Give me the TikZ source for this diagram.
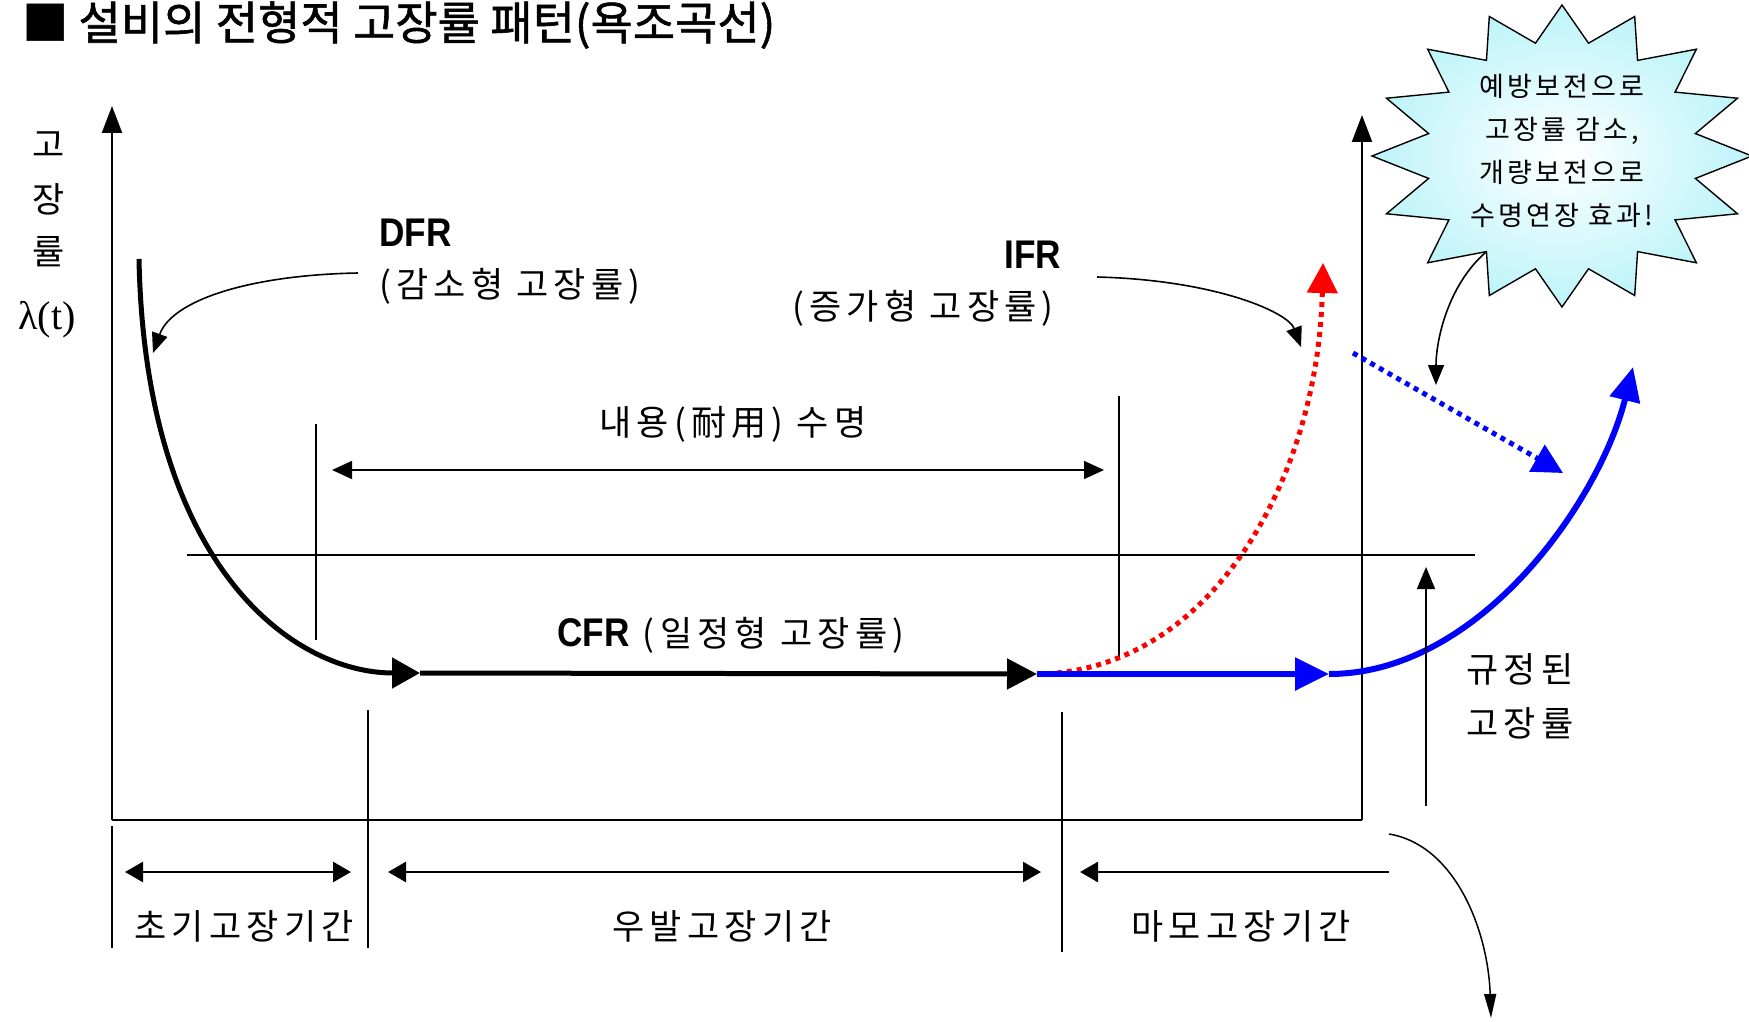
\documentclass[tikz,border=0pt]{standalone}
\usepackage{fontspec}
\usepackage{graphicx}
\usetikzlibrary{arrows.meta}
\newfontfamily\krfont[LetterSpace=15]{Noto Sans CJK KR}
\newfontfamily\krstar[LetterSpace=12]{Noto Sans CJK KR}
\newfontfamily\krtitle[FakeBold=1.2]{Noto Sans CJK KR}
\newfontfamily\latb[FakeStretch=0.88]{Liberation Sans}
\newfontfamily\serifgr{Liberation Serif}
\definecolor{starout}{RGB}{188,244,249}
\begin{document}
\begin{tikzpicture}[x=1pt,y=-1pt,
  lbl/.style={inner sep=0pt, font=\krfont\fontsize{35}{40}\selectfont},
  abbr/.style={inner sep=0pt, font=\latb\bfseries\fontsize{40}{44}\selectfont},
  thinline/.style={line width=1.5pt},
  axisline/.style={line width=2.2pt},
  thinarrow/.style={line width=1.6pt, -{Triangle[length=20pt,width=16pt]}},
  perarrow/.style={line width=2.6pt},
  bigline/.style={line width=5pt, black},
  blueline/.style={line width=6pt, blue},
  dotline/.style={line width=5pt, dash pattern=on 5pt off 5pt},
  bigtip/.style={-{Triangle[length=30pt,width=30pt]}}
]
\useasboundingbox (0,0) rectangle (1749,1022);

% title
\node[anchor=west, inner sep=0pt, font=\krtitle\fontsize{46}{50}\selectfont] (title) at (22,25) {■ 설비의 전형적 고장률 패턴(욕조곡선)};

% y label
\node[lbl] (yl1) at (49,145) {고};
\node[lbl] (yl2) at (49,199) {장};
\node[lbl] (yl3) at (49,252) {률};
\node[inner sep=0pt, font=\serifgr\fontsize{40}{42}\selectfont] (yl4) at (47,320) {λ(t)};

% axes
\coordinate (O) at (112,820);
\coordinate (Ytop) at (112,106);
\coordinate (Xend) at (1362,820);
\coordinate (Rtop) at (1362,115);
\draw[axisline, -{Triangle[length=27pt,width=20pt]}] (O) -- (Ytop);
\draw[axisline, line width=2.6pt] (O) -- (Xend);
\draw[axisline, -{Triangle[length=27pt,width=20pt]}] (Xend) -- (Rtop);

% level line
\coordinate (lv0) at (187,555);
\coordinate (lv1) at (1475,555);
\draw[thinline] (lv0) -- (lv1);

% durable life
\coordinate (dl0a) at (316,424); \coordinate (dl0b) at (316,640);
\coordinate (dl1a) at (1119,396); \coordinate (dl1b) at (1119,660);
\draw[thinline] (dl0a) -- (dl0b);
\draw[thinline] (dl1a) -- (dl1b);
\coordinate (dla) at (332,470); \coordinate (dlb) at (1104,470);
\draw[thinline, {Triangle[length=20pt,width=18pt]}-{Triangle[length=20pt,width=18pt]}] (dla) -- (dlb);
\node[lbl] (life) at (733,424) {내용(耐用) 수명};

% period ticks
\coordinate (t0a) at (112,826); \coordinate (t0b) at (112,948);
\coordinate (t1a) at (368,710); \coordinate (t1b) at (368,948);
\coordinate (t2a) at (1062,712); \coordinate (t2b) at (1062,952);
\draw[thinline] (t0a) -- (t0b);
\draw[thinline] (t1a) -- (t1b);
\draw[thinline] (t2a) -- (t2b);
\coordinate (p0a) at (125,872); \coordinate (p0b) at (351,872);
\coordinate (p1a) at (388,872); \coordinate (p1b) at (1041,872);
\coordinate (p2a) at (1389,872); \coordinate (p2b) at (1080,872);
\draw[perarrow, {Triangle[length=18pt,width=20pt]}-{Triangle[length=18pt,width=20pt]}] (p0a) -- (p0b);
\draw[perarrow, {Triangle[length=18pt,width=20pt]}-{Triangle[length=18pt,width=20pt]}] (p1a) -- (p1b);
\draw[perarrow, -{Triangle[length=18pt,width=20pt]}] (p2a) -- (p2b);
\node[lbl] (per0) at (244,926) {초기고장기간};
\node[lbl] (per1) at (722,926) {우발고장기간};
\node[lbl] (per2) at (1241,926) {마모고장기간};

% curves
\coordinate (dfr0) at (139,259);
\coordinate (cfr0) at (420,673);
\coordinate (cfr1) at (1037,674);
\coordinate (b1) at (1329,674);
\coordinate (b2) at (1633,367);
\coordinate (r2) at (1323,263);
\draw[red, dotline, bigtip] (cfr1) .. controls (1210,672) and (1318,480) .. (r2);
\draw[bigline, -{Triangle[length=28pt,width=30pt]}] (dfr0) .. controls (145,565) and (292,673) .. (cfr0);
\draw[bigline, bigtip] (cfr0) -- (cfr1);
\draw[blueline, -{Triangle[length=34pt,width=32pt]}] (cfr1) -- (b1);
\draw[blueline, -{Triangle[length=34pt,width=30pt]}] (b1) .. controls (1480,674) and (1600,500) .. (b2);
\coordinate (bd0) at (1353,353);
\coordinate (bd1) at (1563,473);
\draw[blue, dotline, bigtip] (bd0) -- (bd1);

% labels
\node[abbr, anchor=west] (dfr) at (379,233) {DFR};
\node[lbl, anchor=west] (dfrsub) at (379,286) {(감소형 고장률)};
\node[abbr] (ifr) at (1033,255) {IFR};
\node[lbl] (ifrsub) at (923,308) {(증가형 고장률)};
\node[lbl] (cfr) at (731,635) {{\latb\bfseries\fontsize{40}{44}\selectfont CFR} (일정형 고장률)};
\node[lbl] (spec1) at (1520,669) {규정된};
\node[lbl] (spec2) at (1520,723) {고장률};

% label arrows
\coordinate (dfrarr) at (153,353);
\coordinate (ifrarr) at (1301,347);
\draw[thinarrow] (358,273) .. controls (250,275) and (172,300) .. (dfrarr);
\draw[thinarrow] (1097,277) .. controls (1215,280) and (1288,312) .. (ifrarr);
\coordinate (up0) at (1426,806); \coordinate (up1) at (1426,567);
\draw[thinline, -{Triangle[length=22pt,width=18pt]}] (up0) -- (up1);
\coordinate (dn0) at (1389,834); \coordinate (dn1) at (1491,1018);
\draw[thinline, -{Triangle[length=24pt,width=12pt]}] (dn0) .. controls (1455,845) and (1488,930) .. (dn1);

% starburst
\shade[inner color=white, outer color=starout]
  (1562,5) \foreach \i in {1,...,31} { -- ({1562+ifthenelse(mod(\i,2)==0,190,136)*cos(90+\i*11.25)}, {156-ifthenelse(mod(\i,2)==0,151,115)*sin(90+\i*11.25)}) } -- cycle;
\draw[black, line width=1.4pt] (1562,5) \foreach \i in {1,...,31} { -- ({1562+ifthenelse(mod(\i,2)==0,190,136)*cos(90+\i*11.25)}, {156-ifthenelse(mod(\i,2)==0,151,115)*sin(90+\i*11.25)}) } -- cycle;
\node[inner sep=0pt, align=center, font=\krstar\fontsize{27}{43}\selectfont] (note) at (1562,151) {예방보전으로\\고장률 감소,\\개량보전으로\\수명연장 효과!};
\coordinate (cal0) at (1486,252);
\coordinate (cal1) at (1436,385);
\draw[thinarrow] (cal0) .. controls (1448,285) and (1436,340) .. (cal1);
\end{tikzpicture}
\end{document}
